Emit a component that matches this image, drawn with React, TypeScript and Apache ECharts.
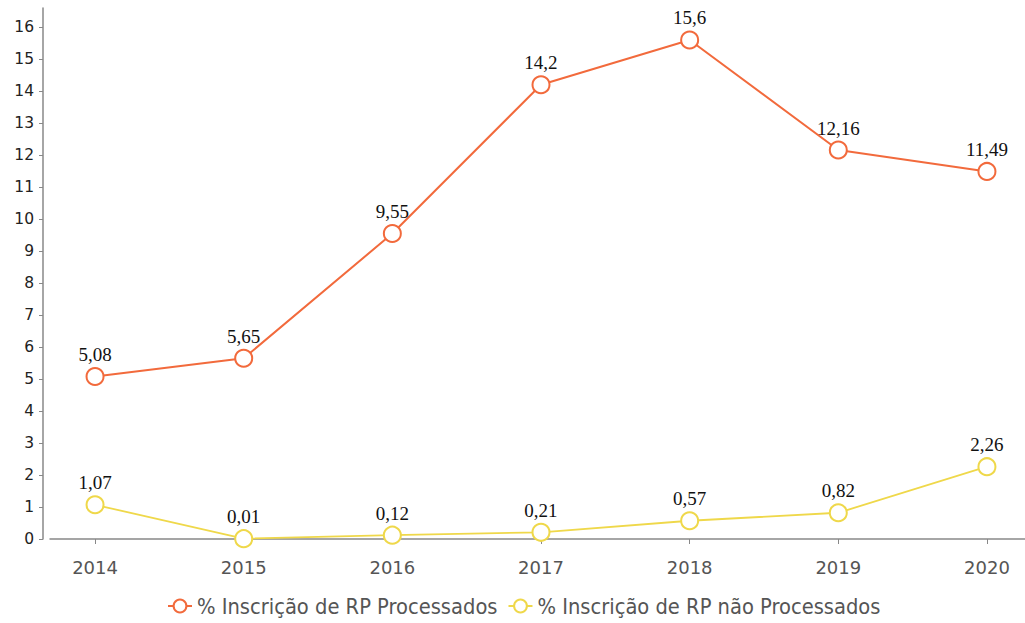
import React, { useEffect, useRef } from "react";
import * as echarts from "echarts";

const years = [2014, 2015, 2016, 2017, 2018, 2019, 2020];
const processados = [5.08, 5.65, 9.55, 14.2, 15.6, 12.16, 11.49];
const naoProcessados = [1.07, 0.01, 0.12, 0.21, 0.57, 0.82, 2.26];
const yTicks = [0, 1, 2, 3, 4, 5, 6, 7, 8, 9, 10, 11, 12, 13, 14, 15, 16];
const seriesNames = ["% Inscrição de RP Processados", "% Inscrição de RP não Processados"];

const fmt = (v: number) => String(v).replace(".", ",");

export default function App() {
  const ref = useRef<HTMLDivElement>(null);
  useEffect(() => {
    if (!ref.current) return;
    const chart = echarts.init(ref.current, null, { renderer: "svg" });
    const mk = (name: string, vals: number[], color: string, width: number) => ({
      name,
      type: "line",
      data: years.map((y, i) => [y, vals[i]]),
      symbol: "circle",
      symbolSize: 17,
      showAllSymbol: true,
      lineStyle: { color, width },
      itemStyle: { color: "#ffffff", borderColor: color, borderWidth: 2 },
      label: {
        show: true,
        position: "top",
        distance: 3,
        color: "#111",
        fontFamily: "Liberation Serif",
        fontSize: 19,
        formatter: (p: any) => fmt(p.value[1]),
      },
      emphasis: { disabled: true },
    });
    chart.setOption({
      animation: false,
      grid: { left: 50, right: 0, top: 8, bottom: 84, containLabel: false },
      xAxis: {
        type: "value",
        min: 2013.697,
        max: 2020.256,
        offset: 8,
        splitLine: { show: false },
        axisLine: { show: true, lineStyle: { color: "#888", width: 1.5 } },
        axisTick: { show: true, customValues: years, length: 5, lineStyle: { color: "#888" } },
        axisLabel: {
          customValues: years,
          color: "#555",
          fontSize: 18,
          fontFamily: "DejaVu Sans",
          margin: 11,
          formatter: (v: number) => String(v),
        },
      },
      yAxis: {
        type: "value",
        min: 0,
        max: 16.6,
        offset: 7,
        splitLine: { show: false },
        axisLine: { show: true, lineStyle: { color: "#888", width: 1.5 } },
        axisTick: { show: true, customValues: yTicks, length: 4, lineStyle: { color: "#888" } },
        axisLabel: {
          customValues: yTicks,
          color: "#222",
          fontSize: 15.5,
          fontFamily: "DejaVu Sans",
          margin: 9,
        },
      },
      legend: {
        bottom: 1,
        left: 162,
        itemWidth: 24,
        itemHeight: 16,
        itemGap: 10,
        textStyle: { color: "#555", fontSize: 21.7, fontFamily: "DejaVu Sans Condensed" },
        data: seriesNames,
      },
      series: [
        mk(seriesNames[0], processados, "#f26a3c", 2),
        mk(seriesNames[1], naoProcessados, "#efd84a", 1.8),
      ],
    });
    return () => chart.dispose();
  }, []);
  return <div ref={ref} style={{ width: 1025, height: 623, position: "absolute", left: 0, top: 0 }} />;
}
